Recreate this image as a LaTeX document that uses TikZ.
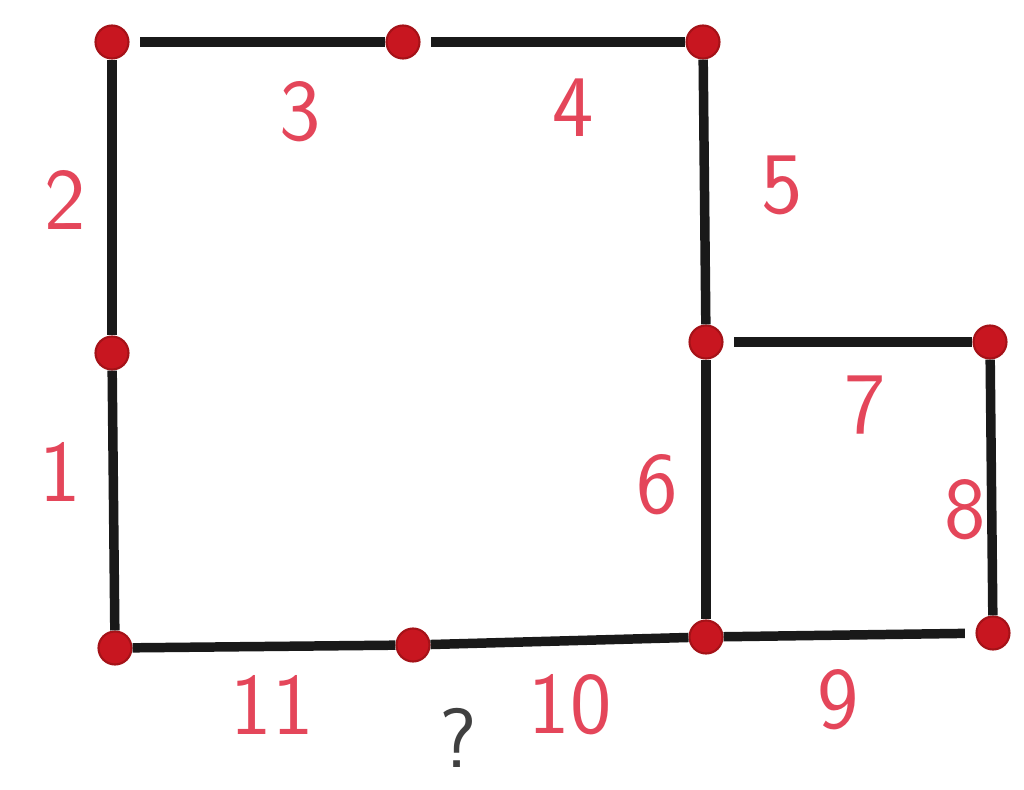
\documentclass[tikz,border=0pt]{standalone}
\begin{document}
\begin{tikzpicture}[x=0.02cm,y=-0.02cm,
  vert/.style={circle,fill=dotred,draw=dotedge,line width=1.2pt,minimum size=0.66cm,inner sep=0pt},
  edge/.style={line width=5.4pt,draw=black!90},
  lab/.style={text=labred,font=\sffamily\fontsize{50}{50}\selectfont,inner sep=0pt}]
\definecolor{dotred}{RGB}{200,22,32}
\definecolor{dotedge}{RGB}{165,18,24}
\definecolor{labred}{RGB}{228,70,90}
\useasboundingbox[fill=white] (0,0) rectangle (1024,790);
% vertices
\node[vert] (A) at (112,42) {};
\node[vert] (B) at (403,42) {};
\node[vert] (C) at (703,42) {};
\node[vert] (D) at (112,353) {};
\node[vert] (E) at (115,648) {};
\node[vert] (F) at (413,645) {};
\node[vert] (G) at (706,637) {};
\node[vert] (H) at (706,342) {};
\node[vert] (I) at (990,342) {};
\node[vert] (J) at (993,633) {};
% edges
\draw[edge,shorten <=6pt] (A) -- (B);
\draw[edge,shorten <=6pt] (B) -- (C);
\draw[edge] (C) -- (H);
\draw[edge] (A) -- (D);
\draw[edge] (D) -- (E);
\draw[edge] (E) -- (F);
\draw[edge] (F) -- (G);
\draw[edge] (H) -- (G);
\draw[edge,shorten <=6pt] (H) -- (I);
\draw[edge] (I) -- (J);
\draw[edge,shorten >=6pt] (G) -- (J);
% labels
\node[lab] (l1) at (60,472) {1};
\node[lab] (l2) at (65,200) {2};
\node[lab] (l3) at (300,112) {3};
\node[lab] (l4) at (573,108) {4};
\node[lab] (l5) at (782,185) {5};
\node[lab] (l6) at (657,485) {6};
\node[lab] (l7) at (865,405) {7};
\node[lab] (l8) at (965,510) {8};
\node[lab] (l9) at (838,700) {9};
\node[lab] (l10) at (570,705) {10};
\node[lab] (l11) at (272,705) {11};
\node[text=black!75,font=\sffamily\fontsize{48}{48}\selectfont,inner sep=0pt] (q) at (458,738) {?};
\end{tikzpicture}
\end{document}
